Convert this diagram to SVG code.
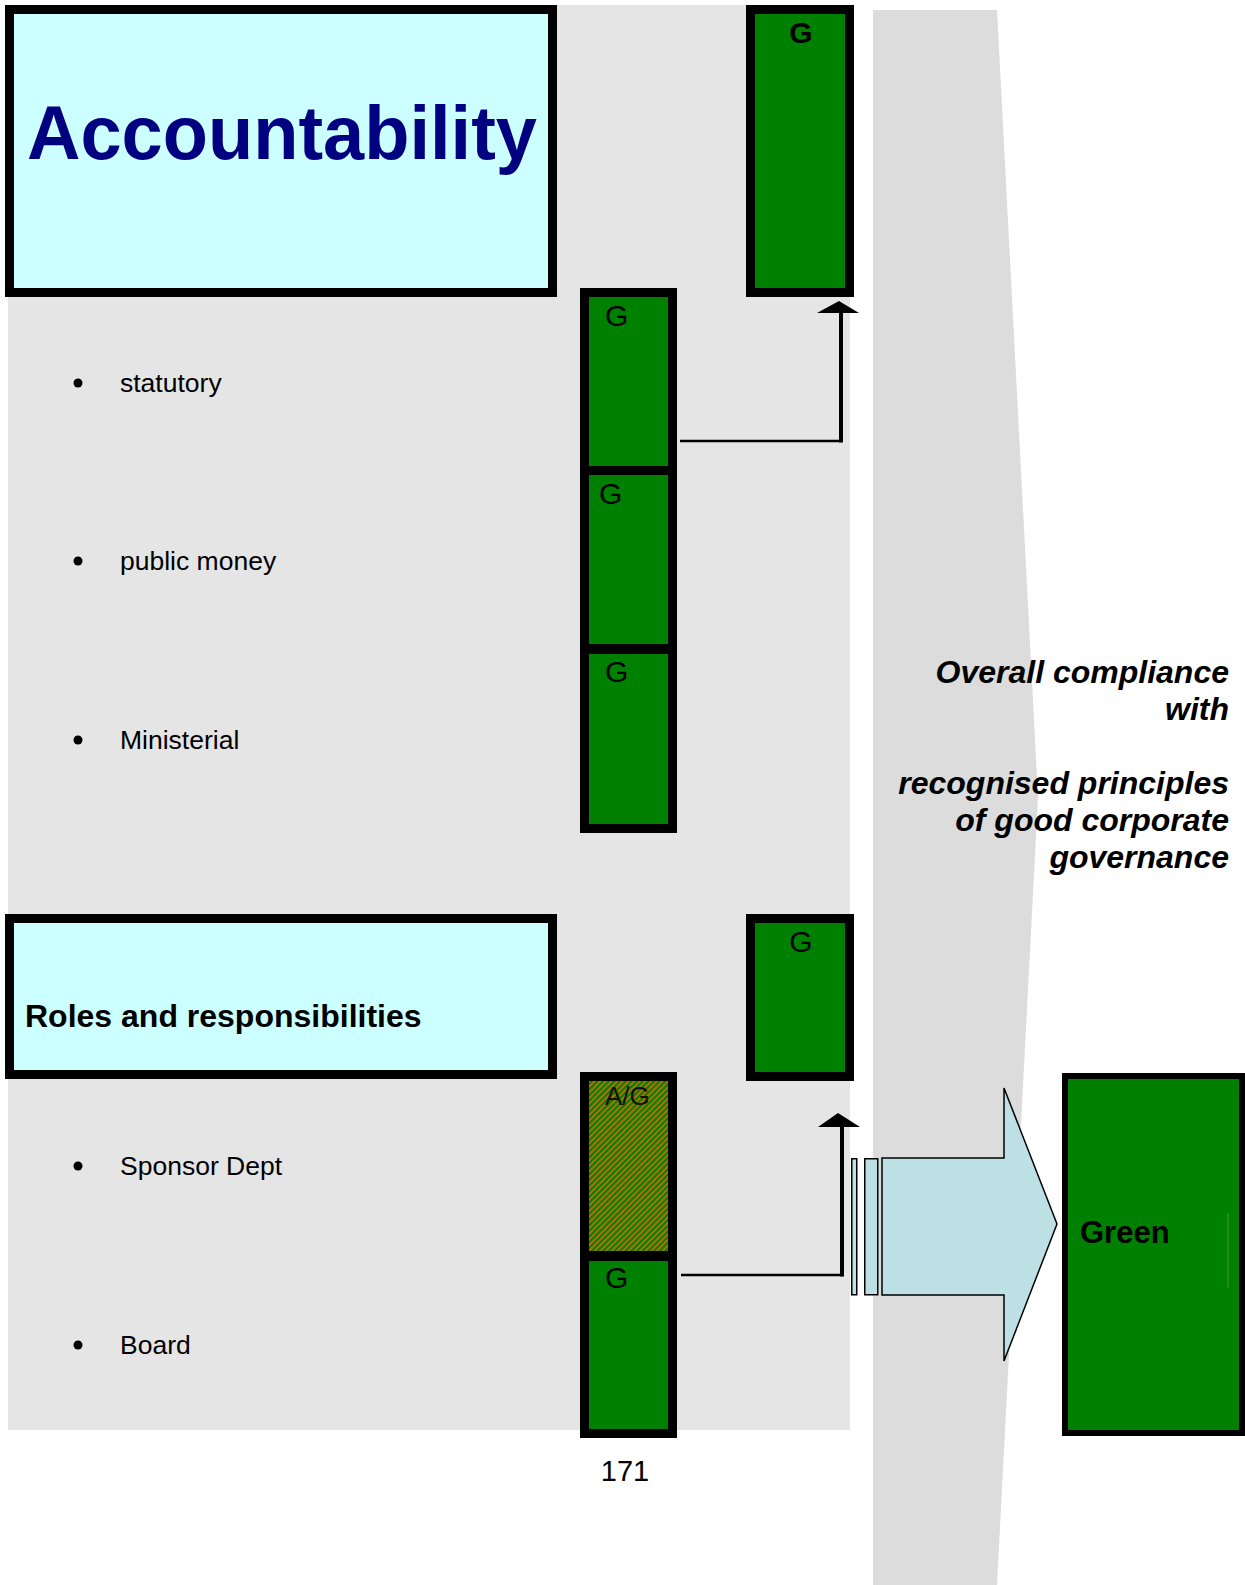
<svg xmlns="http://www.w3.org/2000/svg" width="1245" height="1585" viewBox="0 0 1245 1585">
<defs>
<pattern id="hatch" width="4" height="4" patternUnits="userSpaceOnUse" patternTransform="rotate(45)">
<rect width="4" height="4" fill="#008000"/>
<rect width="2" height="4" fill="#b07000"/>
</pattern>
<style>
text{font-family:"Liberation Sans",Arial,sans-serif;}
.box{stroke:#000;stroke-width:9;}
.cyan{fill:#ccffff;}
.green{fill:#008000;}
.lbl{font-size:30px;fill:#000;}
.item{font-size:26.5px;fill:#000;}
.right{font-size:32px;font-weight:bold;font-style:italic;text-anchor:end;fill:#000;}
.conn{fill:none;stroke:#000;}
</style>
</defs>
<rect id="bg" x="8" y="5" width="842" height="1425" fill="#e5e5e5"/>
<polygon id="band" points="873,10 997,10 1038,797 997,1585 873,1585" fill="#dcdcdc"/>

<g id="accountability">
<rect class="box cyan" x="9.5" y="9.5" width="543" height="283"/>
<text x="27" y="159" font-size="76" font-weight="bold" fill="#000080" textLength="510" lengthAdjust="spacingAndGlyphs">Accountability</text>
</g>
<g id="acc-status">
<rect class="box green" x="750.5" y="9.5" width="99" height="283"/>
<text class="lbl" x="801" y="43" font-weight="bold" text-anchor="middle">G</text>
</g>

<g id="statutory">
<circle cx="78" cy="383" r="4.5" fill="#000"/>
<text class="item" x="120" y="392">statutory</text>
</g>
<g id="statutory-status">
<rect class="box green" x="584.5" y="292.5" width="88" height="178"/>
<text class="lbl" x="605" y="326">G</text>
</g>

<g id="public-money">
<circle cx="78" cy="561" r="4.5" fill="#000"/>
<text class="item" x="120" y="570">public money</text>
</g>
<g id="public-money-status">
<rect class="box green" x="584.5" y="470.5" width="88" height="178"/>
<text class="lbl" x="599" y="504">G</text>
</g>

<g id="ministerial">
<circle cx="78" cy="740" r="4.5" fill="#000"/>
<text class="item" x="120" y="749">Ministerial</text>
</g>
<g id="ministerial-status">
<rect class="box green" x="584.5" y="649.5" width="88" height="179"/>
<text class="lbl" x="605" y="682">G</text>
</g>

<g id="roles">
<rect class="box cyan" x="9.5" y="918.5" width="543" height="156"/>
<text x="25" y="1027" font-size="32" font-weight="bold" fill="#000">Roles and responsibilities</text>
</g>
<g id="roles-status">
<rect class="box green" x="750.5" y="918.5" width="99" height="158"/>
<text class="lbl" x="801" y="952" text-anchor="middle">G</text>
</g>

<g id="sponsor">
<circle cx="78" cy="1166" r="4.5" fill="#000"/>
<text class="item" x="120" y="1175">Sponsor Dept</text>
</g>
<g id="sponsor-status">
<rect class="box" fill="url(#hatch)" x="584.5" y="1076.5" width="88" height="179"/>
<text x="605" y="1105" font-size="26" fill="#111">A/G</text>
</g>

<g id="board">
<circle cx="78" cy="1345" r="4.5" fill="#000"/>
<text class="item" x="120" y="1354">Board</text>
</g>
<g id="board-status">
<rect class="box green" x="584.5" y="1256.5" width="88" height="177"/>
<text class="lbl" x="605" y="1288">G</text>
</g>

<g id="connectors">
<path class="conn" d="M680,441 H841" stroke-width="2.5"/>
<path class="conn" d="M841,442.5 V311" stroke-width="4"/>
<polygon points="817,313 839,301 859,313" fill="#000"/>
<path class="conn" d="M681,1275 H843" stroke-width="2.5"/>
<path class="conn" d="M842,1276.5 V1125" stroke-width="4"/>
<polygon points="818,1127 838,1113 860,1127" fill="#000"/>
</g>

<g id="block-arrow">
<rect x="851.75" y="1158.75" width="5" height="136" fill="#bce0e4" stroke="#000" stroke-width="1.5"/>
<rect x="864.75" y="1158.75" width="13" height="136" fill="#bce0e4" stroke="#000" stroke-width="1.5"/>
<polygon points="882,1158 1004,1158 1004,1088 1057,1224 1004,1361 1004,1295 882,1295" fill="#bce0e4" stroke="#000" stroke-width="1.5"/>
</g>

<g id="overall">
<rect x="1065" y="1076" width="177" height="357" fill="#008000" stroke="#000" stroke-width="6"/>
<line x1="1228" y1="1213" x2="1228" y2="1288" stroke="#3a9a3a" stroke-width="1"/>
<text x="1080" y="1243" font-size="31" font-weight="bold" fill="#000">Green</text>
</g>

<g id="overall-label">
<text class="right" x="1229" y="683">Overall compliance</text>
<text class="right" x="1229" y="720">with</text>
<text class="right" x="1229" y="794">recognised principles</text>
<text class="right" x="1229" y="831">of good corporate</text>
<text class="right" x="1229" y="868">governance</text>
</g>

<text id="page" x="625" y="1481" font-size="29" text-anchor="middle" fill="#000">171</text>
</svg>
